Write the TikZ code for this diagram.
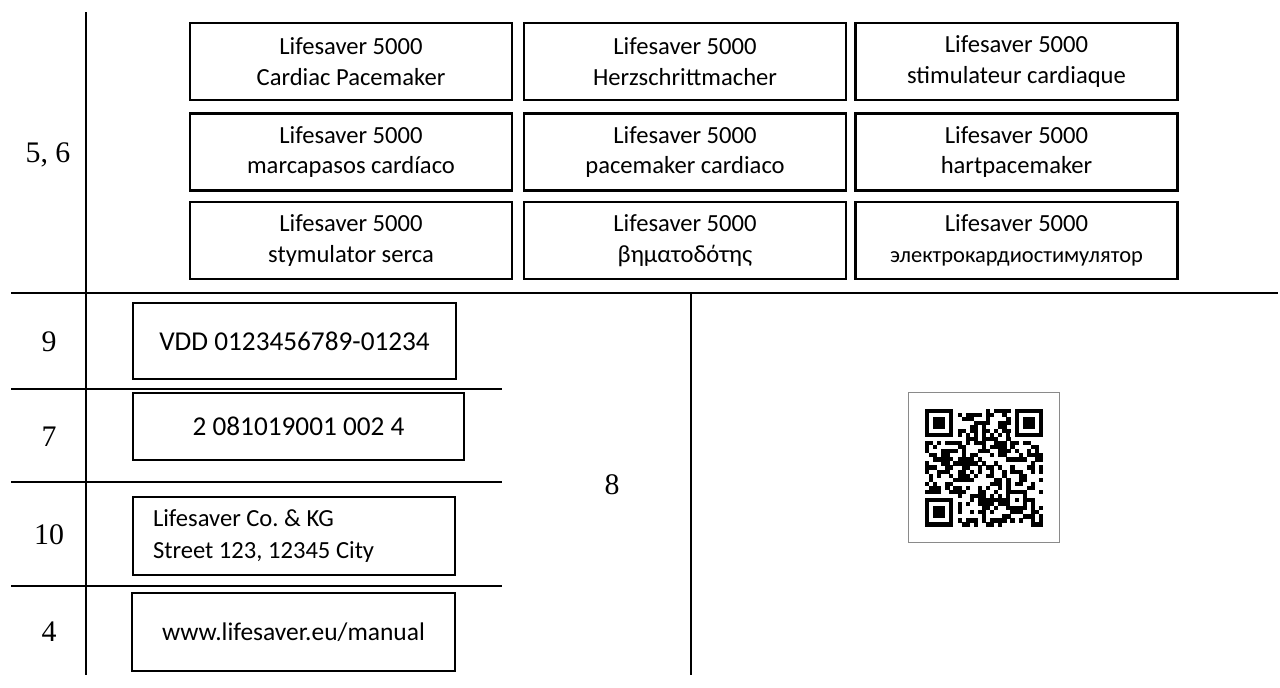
\documentclass[tikz,border=0pt]{standalone}
\usepackage{fontspec}
\setmainfont{Liberation Serif}
\setsansfont{Carlito}
\usepackage{tikz}
\definecolor{Ink}{HTML}{000000}
\definecolor{Frame}{HTML}{8A8A8A}

\begin{document}
\begin{tikzpicture}[
  x=0.02cm, y=-0.02cm,
  rule/.style={line width=1.1pt, draw=Ink},
  tag/.style={draw=Ink, line width=1.6pt, font=\sffamily\frenchspacing\fontsize{14}{17.4}\selectfont, align=center, minimum width=6.44cm, minimum height=1.54cm, inner sep=0pt},
  code/.style={tag, font=\sffamily\frenchspacing\fontsize{15.5}{18.4}\selectfont},
  num/.style={font=\fontsize{17}{20}\selectfont, text=Ink}
]
\useasboundingbox (0,0) rectangle (1280,687);

% table rules
\draw[rule] (86,12) -- (86,675);
\draw[rule] (11,293) -- (1278,293);
\foreach \yy in {389,482,586} \draw[rule] (11,\yy) -- (502,\yy);
\draw[rule] (691,293) -- (691,675);

% device name in nine languages
\node[tag] (en) at (351,61.5) {Lifesaver 5000\\Cardiac Pacemaker};
\node[tag] (de) at (685,61.5) {Lifesaver 5000\\Herzschrittmacher};
\node[tag] (fr) at (1016.5,61.5) {Lifesaver 5000\\stimulateur cardiaque};
\node[tag] (es) at (351,152) {Lifesaver 5000\\marcapasos cardíaco};
\node[tag] (it) at (685,152) {Lifesaver 5000\\pacemaker cardiaco};
\node[tag] (nl) at (1016.5,152) {Lifesaver 5000\\hartpacemaker};
\node[tag] (pl) at (351,240.5) {Lifesaver 5000\\stymulator serca};
\node[tag] (el) at (685,240.5) {Lifesaver 5000\\βηματοδότης};
\node[tag] (ru) at (1016.5,240.5) {Lifesaver 5000\\{\fontsize{12.8}{14}\selectfont электрокардиостимулятор}};

% lower fields
\node[code, minimum width=6.46cm, minimum height=1.52cm] (vdd) at (294.5,341) {VDD 0123456789-01234};
\node[code, minimum width=6.62cm, minimum height=1.34cm] (gtin) at (298.5,426.5) {2 081019001 002 4};
\node[code, font=\sffamily\frenchspacing\fontsize{14}{18.1}\selectfont, minimum width=6.44cm, minimum height=1.56cm, align=flush left, text width=5.64cm] (maker) at (294,536) {Lifesaver Co. \& KG\\Street 123, 12345 City};
\node[code, font=\sffamily\frenchspacing\fontsize{14.5}{18}\selectfont, minimum width=6.46cm, minimum height=1.56cm] (url) at (293.5,632) {www.lifesaver.eu/manual};

% field numbers
\node[num] (n56) at (48,155) {5, 6};
\node[num] (n9) at (49,342) {9};
\node[num] (n7) at (49,437) {7};
\node[num] (n10) at (49,535) {10};
\node[num] (n4) at (49,632) {4};
\node[num] (n8) at (612,485) {8};

% qr code
\node[draw=Frame, line width=0.6pt, minimum width=3.02cm, minimum height=3.0cm, inner sep=0pt] (qr) at (984,467.5) {};
\begin{scope}[shift={(qr.center)}, x=0.0814cm, y=-0.0814cm, shift={(-14.5,-14.5)}]
  \pgfmathsetseed{2081}
  \foreach \r in {0,...,28}{
    \foreach \c in {0,...,28}{
      \pgfmathtruncatemacro\free{!((\r<8 && \c<8) || (\r<8 && \c>20) || (\r>20 && \c<8) || (\r>19 && \r<25 && \c>19 && \c<25) || \r==6 || \c==6)}
      \pgfmathtruncatemacro\dark{rnd<0.48}
      \ifnum\free=1 \ifnum\dark=1 \fill[Ink] (\c,\r) rectangle ++(1.03,1.03); \fi\fi
    }
  }
  \foreach \k in {8,10,...,20}{
    \fill[Ink] (\k,6) rectangle ++(1,1);
    \fill[Ink] (6,\k) rectangle ++(1,1);
  }
  \foreach \fx/\fy in {0/0,22/0,0/22}{
    \fill[Ink] (\fx,\fy) rectangle ++(7,7);
    \fill[white] (\fx+1,\fy+1) rectangle ++(5,5);
    \fill[Ink] (\fx+2,\fy+2) rectangle ++(3,3);
  }
  \fill[Ink] (20,20) rectangle ++(5,5);
  \fill[white] (21,21) rectangle ++(3,3);
  \fill[Ink] (22,22) rectangle ++(1,1);
\end{scope}
\end{tikzpicture}
\end{document}
